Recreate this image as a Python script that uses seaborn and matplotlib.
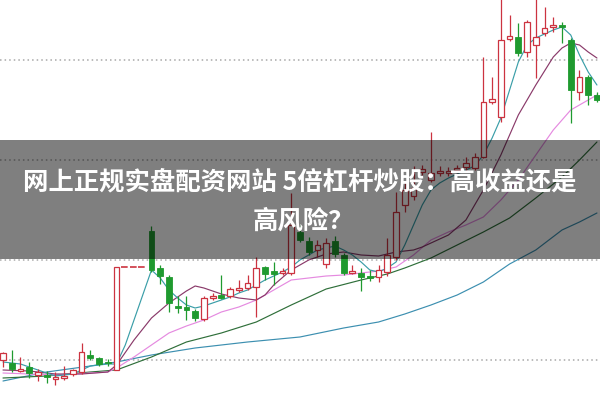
import numpy as np
import pandas as pd
import matplotlib
matplotlib.use("Agg")
import matplotlib.pyplot as plt
import seaborn as sns

# =========================
# DATA (prices)
# =========================
opens = [4.0, 3.7, 2.9, 3.3, 2.5, 2.5, 2.1, 2.2, 2.6, 2.8, 4.5, 4.2, 3.8, 3.0,
         13.3, 13.3, 13.3, 16.9, 13.2, 12.3, 9.4, 9.3, 8.9, 8.1, 10.2, 10.5,
         10.4, 11.0, 11.2, 11.3, 13.3, 12.9, 12.7, 12.7, 16.8, 15.9, 15.0, 13.6,
         15.9, 14.5, 12.7, 12.7, 12.4, 12.3, 12.8, 14.3, 19.5, 20.4, 22.8, 22.0,
         22.7, 22.7, 23.0, 23.3, 23.2, 24.3, 29.8, 28.3, 36.1, 36.3, 34.8, 35.5,
         36.7, 37.3, 37.5, 36.0, 30.8, 32.3, 30.5]
closes = [4.7, 3.1, 3.1, 2.7, 2.8, 2.3, 2.3, 2.4, 3.0, 4.8, 4.2, 3.6, 3.7, 13.3,
          13.3, 13.3, 13.3, 13.0, 12.4, 9.7, 9.2, 9.0, 8.2, 10.2, 10.4, 10.2,
          11.1, 11.2, 11.7, 13.2, 12.6, 12.6, 12.9, 17.5, 16.0, 14.8, 15.5, 15.7,
          14.6, 12.7, 12.9, 12.3, 12.2, 13.0, 14.5, 18.8, 21.0, 21.2, 23.1, 22.7,
          22.9, 22.9, 23.2, 23.7, 24.3, 29.8, 30.1, 36.0, 36.4, 34.7, 37.8, 36.3,
          37.2, 37.5, 37.3, 31.0, 32.3, 30.5, 30.0]
highs = [4.8, 5.0, 4.3, 3.8, 3.1, 2.9, 2.8, 3.4, 3.1, 5.7, 5.0, 4.3, 4.1, 13.3,
         13.3, 13.3, 13.3, 17.4, 13.5, 12.5, 10.4, 10.4, 9.1, 10.4, 10.7, 12.5,
         11.3, 12.0, 12.5, 14.3, 13.4, 13.8, 13.2, 20.7, 17.5, 16.3, 16.0, 16.2,
         16.4, 14.7, 13.5, 13.2, 13.0, 13.5, 16.2, 20.8, 21.8, 23.4, 23.5, 26.8,
         23.4, 23.3, 23.5, 24.3, 24.7, 34.3, 32.3, 40.5, 38.5, 37.7, 38.0, 40.5,
         39.3, 38.3, 37.8, 36.2, 33.0, 32.5, 30.8]
lows = [3.3, 2.8, 2.8, 2.2, 1.9, 1.7, 1.5, 2.0, 2.4, 2.6, 4.0, 3.4, 3.4, 3.0,
        13.3, 13.3, 13.3, 12.8, 11.6, 8.8, 8.7, 8.0, 7.9, 7.9, 10.0, 10.1,
        10.2, 10.8, 11.0, 8.3, 12.0, 11.5, 12.5, 12.5, 15.8, 14.5, 14.3, 13.2,
        14.3, 12.5, 12.6, 10.9, 11.9, 11.8, 12.4, 14.0, 18.8, 20.0, 22.5, 21.8,
        22.4, 22.4, 22.7, 22.8, 23.0, 24.2, 29.6, 27.8, 35.9, 34.4, 34.3, 32.2,
        36.4, 36.8, 35.7, 27.7, 30.0, 29.5, 29.8]

# moving average lines, (candle index, value)
ma5_idx = [0, 2, 4, 6, 8, 10, 12, 13, 14, 15, 16, 17, 18, 19, 20, 21, 22, 23,
           24, 25, 26, 27, 28, 29, 30, 31, 32, 33, 34, 35, 36, 37, 38, 39, 40,
           41, 42, 43, 44, 45, 46, 47, 48, 49, 50, 51, 52, 53, 54, 55, 56, 57,
           58, 59, 60, 61, 62, 63, 64, 65, 66, 67, 68]
ma5_val = [3.8, 3.6, 3.0, 2.4, 2.6, 3.4, 3.6, 3.6, 5.5, 8.0, 10.5, 13.0, 12.2,
           11.0, 10.2, 9.5, 9.2, 9.4, 9.7, 10.0, 10.3, 10.7, 11.0, 11.5, 12.0,
           12.4, 12.8, 13.3, 14.0, 14.5, 15.0, 15.2, 15.4, 15.0, 14.5, 13.8,
           13.0, 12.8, 13.2, 13.8, 15.5, 17.5, 19.5, 21.0, 21.7, 22.2, 22.6,
           23.0, 23.4, 24.5, 26.2, 28.2, 31.0, 33.8, 35.5, 36.2, 36.6, 37.0,
           37.3, 36.5, 34.5, 32.8, 31.5]
ma10_idx = [0, 3, 6, 9, 12, 13, 15, 17, 19, 21, 22, 23, 25, 27, 29, 30, 31, 33,
            35, 37, 39, 41, 43, 45, 47, 48, 51, 53, 55, 57, 59, 61, 63, 64, 65,
            66, 67, 68]
ma10_val = [3.0, 2.9, 2.6, 2.6, 2.8, 3.5, 6.0, 8.2, 9.7, 10.9, 11.4, 11.2, 10.6,
            10.2, 10.0, 10.5, 11.5, 13.0, 14.0, 14.6, 14.8, 14.5, 14.4, 14.8,
            15.0, 15.3, 16.5, 18.0, 21.0, 24.5, 28.5, 31.5, 34.3, 35.2, 35.7,
            35.5, 34.8, 34.2]
ma20_idx = [0, 6, 12, 13, 15, 17, 19, 21, 23, 25, 27, 29, 31, 33, 35, 37, 39,
            41, 43, 45, 47, 49, 51, 53, 55, 57, 59, 61, 63, 65, 67, 68]
ma20_val = [2.7, 2.5, 2.8, 3.2, 4.3, 5.5, 6.7, 7.4, 8.0, 8.8, 9.3, 10.0, 11.0,
            12.0, 12.2, 12.4, 12.5, 12.7, 12.9, 13.3, 14.5, 16.0, 16.8, 17.5,
            18.3, 20.0, 22.0, 24.5, 27.0, 29.0, 30.0, 30.5]
ma60_idx = [0, 5, 10, 13, 17, 21, 25, 29, 33, 37, 41, 44, 46, 49, 52, 55, 58,
            61, 64, 66, 68]
ma60_val = [2.2, 2.4, 2.8, 3.0, 4.3, 5.8, 6.7, 7.8, 9.5, 11.1, 12.0, 12.6, 13.2,
            14.2, 15.5, 16.8, 18.2, 20.2, 22.3, 24.0, 25.8]
ma120_idx = [0, 5, 10, 13, 17, 22, 28, 34, 39, 43, 46, 49, 52, 55, 58, 61, 64,
             66, 68]
ma120_val = [1.9, 2.8, 3.4, 3.8, 4.5, 5.2, 5.8, 6.3, 7.2, 7.8, 8.6, 9.5, 10.5,
             11.8, 13.6, 15.0, 17.0, 17.8, 18.7]

grid_levels = [34, 24, 14, 4]
title_line1 = "网上正规实盘配资网站 5倍杠杆炒股：高收益还是"
title_line2 = "高风险？"

# =========================
# STYLE
# =========================
sns.set_theme(style="white")
plt.rcParams["font.family"] = ["Noto Sans CJK SC", "DejaVu Sans"]

up_color = "#cc3340"
down_color = "#1f9a2f"
ma_palette = {
    "MA5": "#3a9ea8",
    "MA10": "#8a3a6a",
    "MA20": "#e58ae0",
    "MA60": "#2f6f3a",
    "MA120": "#3c8fb0",
}

fig = plt.figure(figsize=(6, 4), dpi=100)
ax = fig.add_axes([0, 0, 1, 1])
ax.set_facecolor("white")

for g in grid_levels:
    ax.axhline(g, color="#a8a8a8", linestyle=(0, (1, 2)), linewidth=1.1, zorder=1)

# moving averages via seaborn
frames = []
for name, idx, val in [("MA120", ma120_idx, ma120_val), ("MA60", ma60_idx, ma60_val),
                       ("MA20", ma20_idx, ma20_val), ("MA10", ma10_idx, ma10_val),
                       ("MA5", ma5_idx, ma5_val)]:
    frames.append(pd.DataFrame({"day": idx, "price": val, "line": name}))
ma_df = pd.concat(frames, ignore_index=True)
sns.lineplot(data=ma_df, x="day", y="price", hue="line", palette=ma_palette,
             sort=False, estimator=None, linewidth=0.85, legend=False, ax=ax,
             zorder=2)

# candles
width = 0.66
for i, (o, c, h, l) in enumerate(zip(opens, closes, highs, lows)):
    if h == l:
        # suspended day: flat dashed mark
        ax.hlines(c, i - 0.5, i + 0.5, color=up_color, linestyle=(0, (4, 2)),
                  linewidth=1.2, zorder=3)
        continue
    up = c >= o
    col = up_color if up else down_color
    ax.vlines(i, l, h, color=col, linewidth=0.9, zorder=3)
    bottom = min(o, c)
    height = max(abs(c - o), 0.12)
    if up:
        ax.bar(i, height, bottom=bottom, width=width, facecolor="white",
               edgecolor=col, linewidth=0.9, zorder=4)
    else:
        ax.bar(i, height, bottom=bottom, width=width, color=col,
               edgecolor=col, linewidth=0.6, zorder=4)

ax.set_xlim(-0.343, 68.35)
ax.set_ylim(0, 40)
ax.axis("off")

# title banner
ax.axhspan(14.1, 26.0, color="black", alpha=0.5, linewidth=0, zorder=6)
fig.text(0.5, 0.545, title_line1, color="white", fontsize=18.3,
         fontweight="bold", ha="center", va="center", zorder=7)
fig.text(0.505, 0.448, title_line2, color="white", fontsize=18.3,
         fontweight="bold", ha="center", va="center", zorder=7)

fig.savefig("out.png", dpi=100)
plt.close(fig)
